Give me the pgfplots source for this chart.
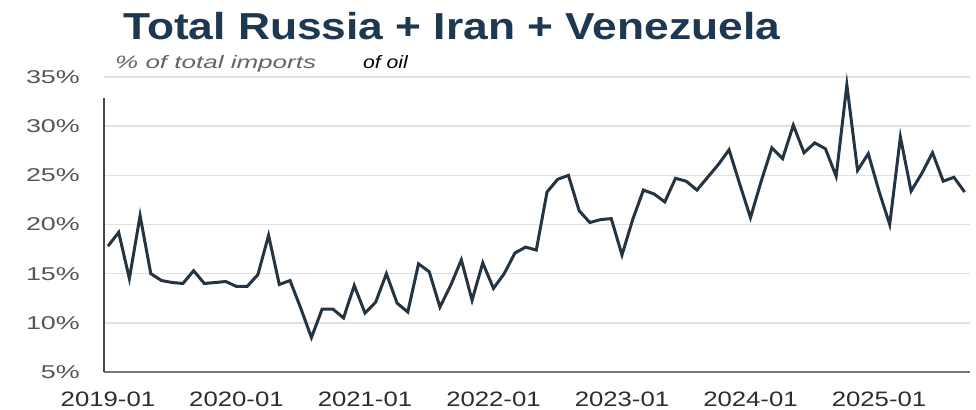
\documentclass[border=0pt]{standalone}
\usepackage{pgfplots}
\pgfplotsset{compat=1.18}
\usepackage{fontspec}
\setmainfont{Liberation Sans}
\definecolor{titlecol}{RGB}{30,56,82}
\definecolor{linecol}{RGB}{36,52,66}
\definecolor{ylabcol}{RGB}{85,85,85}
\definecolor{xlabcol}{RGB}{45,45,45}
\definecolor{gridcol}{RGB}{225,225,225}
\definecolor{botcol}{RGB}{120,120,120}
\definecolor{leftcol}{RGB}{70,70,70}
\definecolor{subcol}{RGB}{100,100,100}
\begin{document}
\begin{tikzpicture}
\path[use as bounding box] (0,0) rectangle (976bp,410bp);
\begin{axis}[
  scale only axis,
  width=866bp, height=295bp,
  at={(104bp,38bp)}, anchor=south west,
  xmin=-0.37, xmax=80.5,
  ymin=5, ymax=35,
  axis x line=bottom,
  axis y line=left,
  x axis line style={-, draw=botcol, line width=2.6bp},
  y axis line style={-, draw=none},
  xtick={0,12,24,36,48,60,72},
  xticklabels={\scalebox{1.23}[1]{2019-01},\scalebox{1.23}[1]{2020-01},\scalebox{1.23}[1]{2021-01},\scalebox{1.23}[1]{2022-01},\scalebox{1.23}[1]{2023-01},\scalebox{1.23}[1]{2024-01},\scalebox{1.23}[1]{2025-01}},
  xticklabel style={anchor=north, inner sep=0pt, yshift=-20bp, text=xlabcol, font=\fontsize{21}{21}\selectfont},
  ytick={5,10,15,20,25,30,35},
  ymajorgrids,
  major grid style={draw=gridcol, line width=1.6bp},
  major tick length=0pt,
  /pgf/number format/assume math mode=true,
  yticklabel={\scalebox{1.45}[1]{\pgfmathprintnumber{\tick}\%}},
  yticklabel style={anchor=east, inner sep=0pt, xshift=-24bp, text=ylabcol, font=\fontsize{18.6}{19}\selectfont},
  clip=false,
]
\addplot[linecol, line width=3bp, mark=none] coordinates {
(0,17.8) (1,19.2) (2,14.5) (3,20.9) (4,15.0) (5,14.3) (6,14.1) (7,14.0)
(8,15.3) (9,14.0) (10,14.1) (11,14.2) (12,13.7) (13,13.7) (14,14.9) (15,18.9)
(16,13.9) (17,14.3) (18,11.5) (19,8.5) (20,11.4) (21,11.4) (22,10.5) (23,13.8)
(24,11.0) (25,12.1) (26,15.0) (27,12.0) (28,11.1) (29,16.0) (30,15.2) (31,11.6)
(32,13.8) (33,16.4) (34,12.3) (35,16.1) (36,13.5) (37,15.0) (38,17.1) (39,17.7)
(40,17.4) (41,23.3) (42,24.6) (43,25.0) (44,21.4) (45,20.2) (46,20.5) (47,20.6)
(48,16.9) (49,20.5) (50,23.5) (51,23.1) (52,22.3) (53,24.7) (54,24.4) (55,23.5)
(56,24.8) (57,26.1) (58,27.6) (59,24.1) (60,20.7) (61,24.4) (62,27.8) (63,26.7)
(64,30.1) (65,27.3) (66,28.3) (67,27.7) (68,24.9) (69,34.2) (70,25.5) (71,27.2)
(72,23.4) (73,20.0) (74,28.9) (75,23.4) (76,25.2) (77,27.3) (78,24.4) (79,24.8)
(80,23.3)
};
\draw[leftcol, line width=1.8bp] (axis cs:-0.37,5) -- (axis cs:-0.37,32.9);
\end{axis}
\node[anchor=base west, inner sep=0pt, text=titlecol] at (123bp,370bp)
  {\scalebox{1.18}[1]{\fontsize{37.7}{40}\selectfont\bfseries Total Russia + Iran + Venezuela}};
\node[anchor=base west, inner sep=0pt, text=subcol] at (115bp,341.7bp)
  {\scalebox{1.45}[1]{\fontsize{18}{20}\selectfont\itshape \% of total imports}};
\node[anchor=base west, inner sep=0pt, text=black] at (363bp,341.7bp)
  {\scalebox{1.18}[1]{\fontsize{18}{20}\selectfont\itshape of oil}};
\end{tikzpicture}
\end{document}
